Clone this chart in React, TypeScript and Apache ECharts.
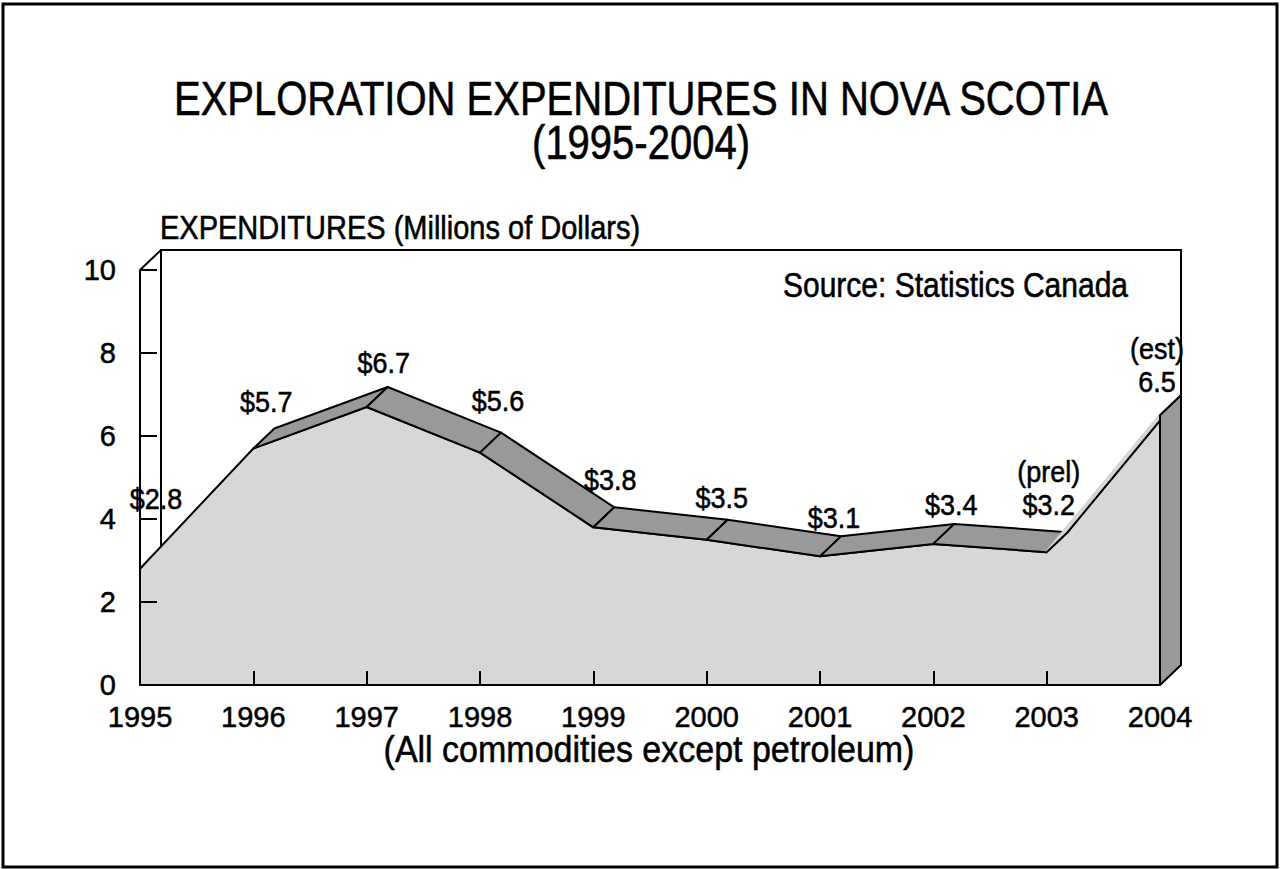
import React, { useEffect, useRef } from "react";
import * as echarts from "echarts";

const years = ["1995", "1996", "1997", "1998", "1999", "2000", "2001", "2002", "2003", "2004"];
const expenditures = [2.8, 5.7, 6.7, 5.6, 3.8, 3.5, 3.1, 3.4, 3.2, 6.5];
const valueLabels = ["$2.8", "$5.7", "$6.7", "$5.6", "$3.8", "$3.5", "$3.1", "$3.4", "(prel)\n$3.2", "(est)\n6.5"];
const yMin = 0;
const yMax = 10;
const yStep = 2;

const titleLine1 = "EXPLORATION EXPENDITURES IN NOVA SCOTIA";
const titleLine2 = "(1995-2004)";
const yTitle = "EXPENDITURES (Millions of Dollars)";
const sourceText = "Source: Statistics Canada";
const xTitle = "(All commodities except petroleum)";

// styles
const FONT = "'Liberation Sans', Arial, Helvetica, sans-serif";
const DX = 21;
const DY = -20;
const FRONT = "#d8d6d7";
const TOPC = "#9a999a";
const TALL = 1.15;
const labelNudgeX = [-5, -8, -4, -3, -4, -6, -7, -3, -19, -24];
const labelNudgeY = [-24, -1, 2, -6, -1, 4, 8, 7, -1, 13];

const textStyle = (size: number, align: string, vAlign: string) => ({
  fill: "#000",
  fontSize: size,
  fontFamily: FONT,
  align,
  verticalAlign: vAlign,
  stroke: "#000",
  lineWidth: 0.5,
});

export default function App() {
  const ref = useRef<HTMLDivElement>(null);
  useEffect(() => {
    if (!ref.current) return;
    const chart = echarts.init(ref.current, null, { renderer: "svg" });
    const n = expenditures.length;
    const cross = (a: number[], b: number[]) => {
      const dx = b[0] - a[0];
      const dy = b[1] - a[1];
      return dx * DY - dy * DX;
    };
    const option: any = {
      animation: false,
      backgroundColor: "#fff",
      textStyle: { fontFamily: FONT },
      graphic: [
        {
          type: "rect",
          shape: { x: 3, y: 4, width: 1274, height: 863 },
          style: { fill: null, stroke: "#000", lineWidth: 3 },
          silent: true,
          z: 100,
        },
        {
          type: "text",
          x: 641,
          y: 98,
          scaleY: 1.2,
          style: { ...textStyle(40, "center", "middle"), text: titleLine1 },
        },
        {
          type: "text",
          x: 641,
          y: 142,
          scaleY: 1.2,
          style: { ...textStyle(40, "center", "middle"), text: titleLine2 },
        },
        {
          type: "text",
          x: 160,
          y: 228,
          scaleY: TALL,
          style: { ...textStyle(29, "left", "middle"), text: yTitle },
        },
        {
          type: "text",
          x: 783,
          y: 285,
          scaleY: TALL,
          style: { ...textStyle(30, "left", "middle"), text: sourceText },
        },
        {
          type: "text",
          x: 649,
          y: 749,
          scaleY: 1.1,
          style: { ...textStyle(34, "center", "middle"), text: xTitle },
        },
      ],
      grid: { left: 140, right: 121, top: 270, bottom: 184, containLabel: false },
      xAxis: {
        type: "category",
        data: years,
        boundaryGap: false,
        z: 5,
        axisLine: { lineStyle: { color: "#000", width: 2 } },
        axisTick: { inside: true, length: 14, lineStyle: { color: "#000", width: 2 } },
        axisLabel: {
          interval: 0,
          fontSize: 29,
          color: "#000",
          margin: 17,
          fontFamily: FONT,
          textBorderColor: "#000",
          textBorderWidth: 0.5,
        },
        splitLine: { show: false },
      },
      yAxis: {
        type: "value",
        min: yMin,
        max: yMax,
        interval: yStep,
        z: 5,
        axisLine: { show: true, lineStyle: { color: "#000", width: 2 } },
        axisTick: { show: true, inside: true, length: 17, lineStyle: { color: "#000", width: 2 } },
        axisLabel: {
          fontSize: 29,
          color: "#000",
          margin: 24,
          fontFamily: FONT,
          textBorderColor: "#000",
          textBorderWidth: 0.5,
        },
        splitLine: { show: false },
      },
      series: [
        {
          type: "custom",
          name: "wall",
          z: 1,
          clip: false,
          silent: true,
          data: [[0, yMax]],
          renderItem: (params: any, api: any) => {
            const tl = api.coord([0, yMax]);
            const br = api.coord([n - 1, yMin]);
            const bx0 = tl[0] + DX;
            const by0 = tl[1] + DY;
            const bx1 = br[0] + DX;
            const by1 = br[1] + DY;
            return {
              type: "group",
              children: [
                {
                  type: "polyline",
                  shape: { points: [[bx0, by1], [bx0, by0], [bx1, by0], [bx1, by1]] },
                  style: { stroke: "#000", lineWidth: 2, fill: null },
                },
                {
                  type: "line",
                  shape: { x1: tl[0], y1: tl[1], x2: bx0, y2: by0 },
                  style: { stroke: "#000", lineWidth: 2 },
                },
              ],
            };
          },
        },
        {
          type: "line",
          name: "front",
          z: 2,
          data: expenditures,
          symbol: "none",
          lineStyle: { color: "#000", width: 2 },
          areaStyle: { color: FRONT, opacity: 1 },
        },
        {
          type: "custom",
          name: "band",
          z: 3,
          clip: false,
          silent: true,
          data: expenditures.map((v, i) => [i, v]),
          renderItem: (params: any, api: any) => {
            const i = params.dataIndex;
            const F1 = api.coord([i, expenditures[i]]);
            const B1 = [F1[0] + DX, F1[1] + DY];
            if (i === n - 1) {
              const F0 = api.coord([i, yMin]);
              return {
                type: "polygon",
                shape: { points: [F1, B1, [F0[0] + DX, F0[1] + DY], F0] },
                style: { fill: TOPC, stroke: "#000", lineWidth: 2, lineJoin: "round" },
              };
            }
            const F2 = api.coord([i + 1, expenditures[i + 1]]);
            const B2 = [F2[0] + DX, F2[1] + DY];
            if (cross(F1, F2) < 0) {
              return {
                type: "polygon",
                shape: { points: [F1, F2, B2, B1] },
                style: { fill: TOPC, stroke: "#000", lineWidth: 2, lineJoin: "round" },
              };
            }
            if (i > 0) {
              const F0 = api.coord([i - 1, expenditures[i - 1]]);
              if (cross(F0, F1) < 0) {
                return {
                  type: "group",
                  children: [
                    {
                      type: "polygon",
                      shape: { points: [F1, B1, B2, F2] },
                      style: { fill: FRONT, stroke: FRONT, lineWidth: 3 },
                    },
                    {
                      type: "polyline",
                      shape: { points: [F1, B1, B2] },
                      style: { fill: null, stroke: "#000", lineWidth: 2 },
                    },
                  ],
                };
              }
            }
            return null;
          },
        },
        {
          type: "custom",
          name: "labels",
          z: 4,
          clip: false,
          silent: true,
          data: expenditures.map((v, i) => [i, v]),
          renderItem: (params: any, api: any) => {
            const i = params.dataIndex;
            const F1 = api.coord([i, expenditures[i]]);
            return {
              type: "text",
              x: F1[0] + DX + labelNudgeX[i],
              y: F1[1] + DY - 9 + labelNudgeY[i],
              scaleY: 1.08,
              style: {
                text: valueLabels[i],
                fill: "#000",
                fontSize: 27,
                fontFamily: FONT,
                lineHeight: 31,
                align: "center",
                verticalAlign: "bottom",
                textAlign: "center",
                textVerticalAlign: "bottom",
                stroke: "#000",
                lineWidth: 0.5,
              },
            };
          },
        },
      ],
    };
    chart.setOption(option);
    return () => chart.dispose();
  }, []);
  return (
    <div
      ref={ref}
      style={{ position: "absolute", left: 0, top: 0, width: 1281, height: 869 }}
    />
  );
}
